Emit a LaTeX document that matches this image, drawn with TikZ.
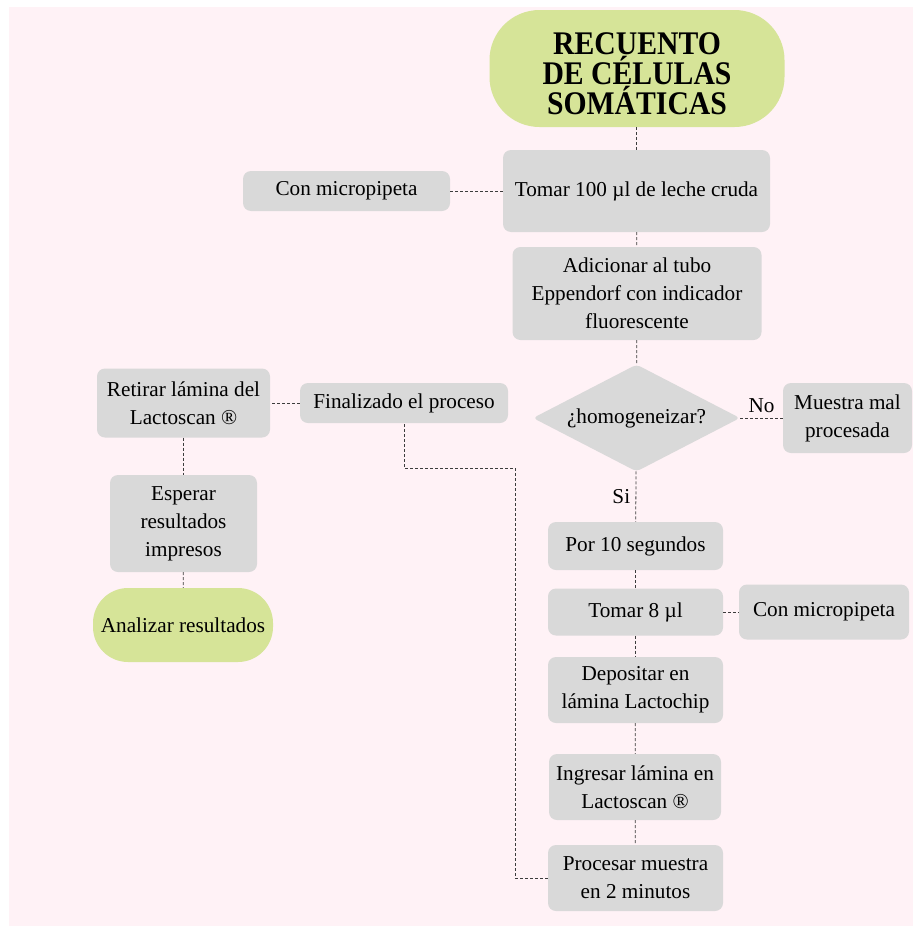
\documentclass[tikz,border=0pt]{standalone}
\usepackage{fontspec}
\setmainfont{Liberation Serif}
\newfontfamily\titulofont[FakeStretch=0.9]{Liberation Serif}
\usetikzlibrary{shapes.geometric}

\definecolor{fondo}{RGB}{255,242,246}
\definecolor{caja}{RGB}{217,217,217}
\definecolor{verde}{RGB}{214,228,152}
\definecolor{linea}{RGB}{60,60,60}

\tikzset{
  texto/.style={font=\fontsize{21.2}{28}\selectfont},
  paso/.style={texto, fill=caja, rounded corners=8pt, align=center, inner sep=2pt},
  extremo/.style={fill=verde, align=center, inner sep=2pt},
  decision/.style={texto, diamond, aspect=1.95, fill=caja, rounded corners=4pt, inner sep=0pt},
  enlace/.style={draw=linea, line width=0.8pt, dash pattern=on 3pt off 2pt}
}

\begin{document}
\begin{tikzpicture}[x=1pt, y=-1pt]
  \useasboundingbox (0,0) rectangle (913,926);
  \fill[fondo] (9,7) rectangle (913,926);

  \node[extremo, rounded corners=50pt, minimum width=295pt, minimum height=117pt,
        font=\titulofont\bfseries\fontsize{33}{30}\selectfont] (titulo) at (637,68.5)
        {\rule{0pt}{33pt}RECUENTO\\DE CÉLULAS\\SOMÁTICAS};
  \node[paso, minimum width=267pt, minimum height=82pt] (tomar) at (636.5,191) {Tomar 100 µl de leche cruda};
  \node[paso, minimum width=207pt, minimum height=40pt] (pipeta) at (346.5,191) {Con micropipeta};
  \node[paso, minimum width=249pt, minimum height=93pt] (adicionar) at (637,293.5)
        {Adicionar al tubo\\Eppendorf con indicador\\fluorescente};
  \node[decision, minimum width=207pt, minimum height=107pt] (homog) at (636.5,418) {¿homogeneizar?};
  \node[paso, minimum width=129pt, minimum height=70pt] (mal) at (847.5,418) {Muestra mal\\procesada};

  \node[paso, minimum width=208pt, minimum height=40pt] (finalizado) at (404,403) {Finalizado el proceso};
  \node[paso, minimum width=173pt, minimum height=69pt] (retirar) at (183.5,403) {Retirar lámina del\\Lactoscan ®};
  \node[paso, minimum width=147pt, minimum height=97pt] (esperar) at (183.5,523.5) {Esperar\\resultados\\impresos};
  \node[extremo, texto, rounded corners=35pt, minimum width=180pt, minimum height=74pt] (analizar) at (183,625)
        {Analizar resultados};

  \node[paso, minimum width=175pt, minimum height=48pt] (por) at (635.5,546) {Por 10 segundos};
  \node[paso, minimum width=175pt, minimum height=47pt] (tomar8) at (635.5,612) {Tomar 8 µl};
  \node[paso, minimum width=170pt, minimum height=55pt] (pipeta2) at (824,612) {Con micropipeta};
  \node[paso, minimum width=175pt, minimum height=66pt] (depositar) at (635.5,690) {Depositar en\\lámina Lactochip};
  \node[paso, minimum width=172pt, minimum height=66pt] (ingresar) at (635,787) {Ingresar lámina en\\Lactoscan ®};
  \node[paso, minimum width=175pt, minimum height=66pt] (procesar) at (635.5,878) {Procesar muestra\\en 2 minutos};

  \coordinate (codo) at (515,468);

  \draw[enlace] (titulo.south -| tomar.north) -- (tomar.north);
  \draw[enlace] (pipeta) -- (tomar);
  \draw[enlace] (tomar) -- (adicionar);
  \draw[enlace] (adicionar) -- (homog);
  \draw[enlace] (homog) -- (mal) node[texto, midway, above=2pt] (no) {No};
  \draw[enlace] (homog) -- (por) node[texto, midway, left=2pt] (si) {Si};
  \draw[enlace] (por) -- (tomar8);
  \draw[enlace] (tomar8) -- (pipeta2);
  \draw[enlace] (tomar8) -- (depositar);
  \draw[enlace] (depositar) -- (ingresar);
  \draw[enlace] (ingresar) -- (procesar);
  \draw[enlace] (procesar.west) -| (codo) -| (finalizado.south);
  \draw[enlace] (finalizado) -- (retirar);
  \draw[enlace] (retirar) -- (esperar);
  \draw[enlace] (esperar) -- (analizar);
\end{tikzpicture}
\end{document}
